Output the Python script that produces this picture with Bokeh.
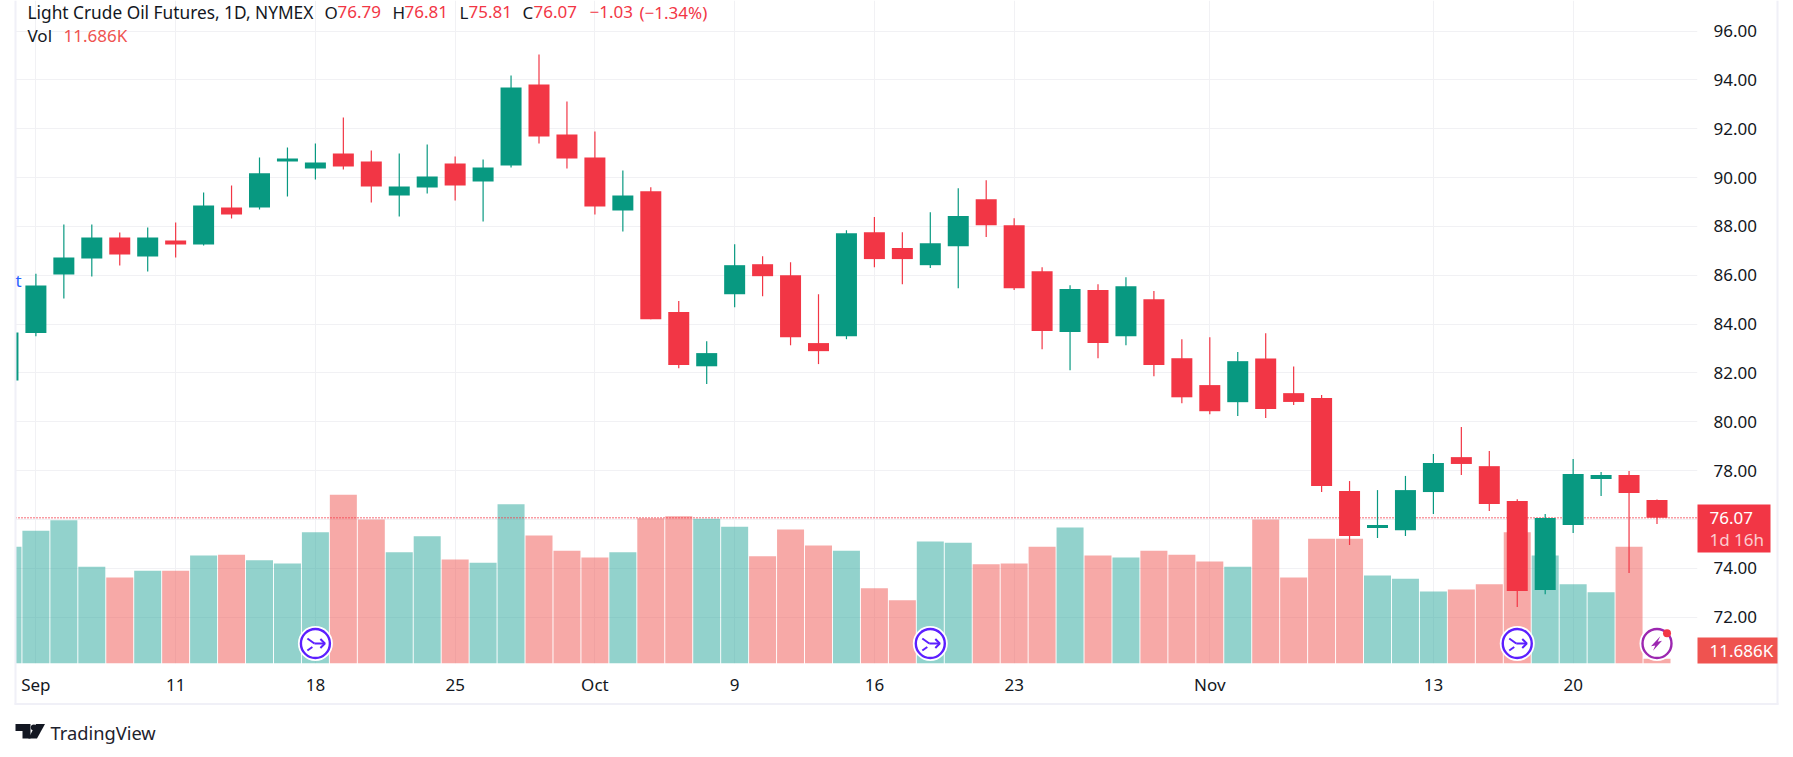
import numpy as np
from bokeh.plotting import figure
from bokeh.models import ColumnDataSource, Range1d, FixedTicker, NumeralTickFormatter
from bokeh.core.properties import value
from bokeh.embed import file_html
from bokeh.resources import INLINE

days = list(range(-1, 59))
opens = [81.69, 83.63, 86.03, 86.68, 87.54, 86.77, 87.42, 87.26, 88.77, 88.77, 90.66, 90.37,
         90.98, 90.66, 89.26, 89.59, 90.57, 89.84, 90.49, 93.81, 91.76, 90.82, 88.65, 89.44,
         84.49, 82.27, 85.22, 86.45, 86.00, 83.22, 83.50, 87.76, 87.11, 86.41, 87.19, 89.11,
         88.05, 86.16, 83.67, 85.39, 83.50, 85.02, 82.60, 81.50, 80.80, 82.59, 81.17, 80.97,
         77.16, 75.65, 75.56, 77.12, 78.55, 78.18, 76.75, 73.11, 75.77, 77.65, 77.82, 76.79]
highs = [83.65, 86.06, 88.08, 88.08, 87.75, 87.95, 88.16, 89.39, 89.67, 90.82, 91.23, 91.39,
         92.46, 91.11, 90.98, 91.35, 90.86, 90.74, 94.18, 95.04, 93.11, 91.88, 90.29, 89.60,
         84.94, 83.30, 87.27, 86.78, 86.53, 85.22, 87.84, 88.38, 87.76, 88.58, 89.56, 89.89,
         88.33, 86.33, 85.59, 85.63, 85.92, 85.35, 83.38, 83.46, 82.85, 83.62, 82.26, 81.09,
         77.57, 77.20, 77.78, 78.68, 79.78, 78.80, 76.83, 76.22, 78.47, 77.94, 77.98, 76.81]
lows = [81.69, 83.50, 85.05, 85.95, 86.40, 86.15, 86.72, 87.22, 88.32, 88.69, 89.22, 89.92,
        90.33, 88.98, 88.40, 89.35, 89.06, 88.20, 90.41, 91.39, 90.37, 88.49, 87.79, 84.20,
        82.19, 81.54, 84.69, 85.14, 83.13, 82.36, 83.38, 86.33, 85.63, 86.29, 85.47, 87.56,
        85.39, 82.97, 82.11, 82.60, 83.13, 81.86, 80.76, 80.31, 80.23, 80.15, 80.68, 77.12,
        74.95, 75.24, 75.32, 76.22, 77.82, 76.34, 72.41, 72.94, 75.44, 76.96, 73.80, 75.81]
closes = [83.65, 85.58, 86.72, 87.54, 86.85, 87.54, 87.26, 88.85, 88.49, 90.17, 90.78, 90.62,
          90.45, 89.63, 89.63, 90.04, 89.67, 90.41, 93.69, 91.68, 90.78, 88.81, 89.26, 84.20,
          82.32, 82.81, 86.41, 85.96, 83.46, 82.89, 87.72, 86.66, 86.66, 87.31, 88.42, 88.05,
          85.47, 83.71, 85.43, 83.22, 85.55, 82.32, 81.00, 80.43, 82.48, 80.52, 80.81, 77.37,
          75.32, 75.77, 77.20, 78.31, 78.27, 76.63, 73.07, 76.06, 77.86, 77.82, 77.08, 76.07]
volumes = [292, 332, 358, 242, 215, 232, 232, 270, 272, 258, 250, 328, 422, 360, 278, 318, 260,
           252, 398, 320, 282, 265, 278, 363, 368, 362, 342, 268, 335, 295, 282, 188, 158, 305,
           302, 248, 250, 292, 340, 270, 265, 282, 272, 255, 242, 360, 215, 312, 312, 220, 212,
           180, 185, 198, 328, 270, 198, 178, 292, 11.686]
date_ticks = [0, 5, 10, 15, 20, 25, 30, 35, 42, 50, 55]
date_labels = ["Sep", "11", "18", "25", "Oct", "9", "16", "23", "Nov", "13", "20"]
price_ticks = [72, 74, 76, 78, 80, 82, 84, 86, 88, 90, 92, 94, 96]
last_price = 76.07
event_days = [10, 32, 53]
flash_day = 58

UP, DOWN = "#089981", "#f23645"
VUP, VDOWN = "#26a69a", "#ef5350"
TXT = "#131722"
FONT = "Noto Sans"
W, H = 1793, 757
L, R, T, B = 15, 1697, 0, 663
PX_X, PX_Y = 27.95, 24.42       # pixels per day, pixels per price unit

x_lo = (L - 35.4) / PX_X
x_hi = (R - 35.4) / PX_X
y_hi = 96 + 30.5 / PX_Y
y_lo = 96 - (B - 30.5) / PX_Y

p = figure(width=W, height=H, output_backend="svg", toolbar_location=None,
           x_range=Range1d(x_lo, x_hi), y_range=Range1d(y_lo, y_hi),
           y_axis_location="right", min_border_left=L, min_border_right=W - R,
           min_border_top=T, min_border_bottom=H - B)
p.outline_line_color = None
p.background_fill_color = "white"
p.extra_y_ranges = {"vol": Range1d(0, (B - T) * 2.5)}

p.xaxis.ticker = FixedTicker(ticks=date_ticks)
p.xaxis.major_label_overrides = {k: v for k, v in zip(date_ticks, date_labels)}
p.yaxis.ticker = FixedTicker(ticks=price_ticks)
p.yaxis.formatter = NumeralTickFormatter(format="0.00")
for ax in (p.xaxis[0], p.yaxis[0]):
    ax.axis_line_color = None
    ax.major_tick_line_color = None
    ax.minor_tick_line_color = None
    ax.major_label_text_font = FONT
    ax.major_label_text_font_size = "17px"
    ax.major_label_text_color = TXT
p.xaxis.major_label_standoff = 3
p.yaxis.major_label_standoff = 10
p.xgrid.grid_line_color = "#f1f1f4"
p.ygrid.grid_line_color = "#f1f1f4"
p.xgrid.ticker = FixedTicker(ticks=date_ticks)
p.ygrid.ticker = FixedTicker(ticks=price_ticks)

o, c = np.array(opens), np.array(closes)
up = c >= o
src = ColumnDataSource(dict(
    x=days, o=opens, h=highs, l=lows, c=closes, v=volumes,
    top=np.maximum(o, c), bot=np.minimum(o, c),
    col=[UP if u else DOWN for u in up],
    vcol=[VUP if u else VDOWN for u in up]))

p.vbar(x="x", width=27 / PX_X, bottom=0, top="v", source=src, y_range_name="vol",
       fill_color="vcol", fill_alpha=0.5, line_color=None)
p.segment(x0=[x_lo], x1=[x_hi], y0=[last_price], y1=[last_price], line_color=DOWN,
          line_width=1.6, line_dash="1 2")
p.segment(x0="x", x1="x", y0="l", y1="h", source=src, line_color="col", line_width=1.2)
p.vbar(x="x", width=21 / PX_X, bottom="bot", top="top", source=src,
       fill_color="col", line_color=None)

# event badges, drawn in data space with pixel-sized offsets
ICON_Y = 96 - (643 - 30.5) / PX_Y
def dx(px): return px / PX_X
def dy(px): return -px / PX_Y

p.scatter(event_days + [flash_day], [ICON_Y] * 4, size=35, marker="circle",
          fill_color="white", line_color=None)
p.scatter(event_days, [ICON_Y] * 3, size=29, marker="circle", fill_color="white",
          line_color="#5c1fff", line_width=2.4)
p.scatter([flash_day], [ICON_Y], size=29, marker="circle", fill_color="white",
          line_color="#9c27b0", line_width=2.4)
paths = [[(-1, 0), (9, 0)], [(5, -4.5), (9.5, 0), (5, 4.5)], [(-8, -5), (-1, 0)], [(-3, 3.5), (-8, 7)]]
xs, ys = [], []
for d in event_days:
    for path in paths:
        xs.append([d + dx(a) for a, _ in path])
        ys.append([ICON_Y + dy(b) for _, b in path])
p.multi_line(xs, ys, line_color="#5c1fff", line_width=2)
bolt = [(3.3, -7.3), (-6, 2.7), (-1.7, 2), (-4, 7.3), (5, -2.7), (0.7, -1.7)]
p.patch([flash_day + dx(a) for a, _ in bolt], [ICON_Y + dy(b) for _, b in bolt],
        fill_color="#9c27b0", line_color=None)
p.scatter([flash_day + dx(10)], [ICON_Y + dy(-10.3)], size=8, marker="circle",
          fill_color=DOWN, line_color=None)

# transparent overlay in page pixels: chart frame, tags, legend rows, logo
q = figure(width=W, height=H, output_backend="svg", toolbar_location=None,
           x_range=Range1d(0, W), y_range=Range1d(H, 0), x_axis_location=None,
           y_axis_location=None, min_border=0)
q.grid.visible = False
q.outline_line_color = None
q.background_fill_alpha = 0
q.border_fill_alpha = 0
q.styles = {"position": "absolute", "left": "0", "top": "0"}

def box(left, right, top, bottom, color):
    q.quad(left=[left], right=[right], top=[top], bottom=[bottom], fill_color=color, line_color=None)

def text(x, y, s, color=TXT, size=17, alpha=1.0):
    q.text([x], [y], text=[s], text_color=color, text_font=value(FONT),
           text_font_size=f"{size}px", text_baseline="middle", text_align="left", text_alpha=alpha)

BORDER = "#f0f0f7"
box(14, 16, 0, 704, BORDER)
box(1776, 1778, 0, 704, BORDER)
box(14, 1778, 702.5, 704.5, BORDER)

box(1697, 1770, 504, 552, DOWN)
text(1709, 517.5, "76.07", "white")
text(1709, 539, "1d 16h", "white", alpha=0.75)
box(1697, 1777, 637, 663, VDOWN)
text(1709, 650, "11.686K", "white")

ROW = 11.5
text(27, ROW, "Light Crude Oil Futures, 1D, NYMEX", size=17.3)
for lx, ls, vx, vs in [(324, "O", 337, "76.79"), (392, "H", 404, "76.81"),
                       (459, "L", 468, "75.81"), (522, "C", 533, "76.07")]:
    text(lx, ROW, ls)
    text(vx, ROW, vs, DOWN)
text(589, ROW, "\u22121.03", DOWN)
text(639, ROW, "(\u22121.34%)", DOWN)
text(27, 35, "Vol")
text(63, 35, "11.686K", VDOWN)
text(15, 280, "t", "#2962ff")

LOGO = "#131722"
for pts in ([(15, 723.5), (30, 723.5), (30, 738), (22, 738), (22, 730.5), (15, 730.5)],
            [(36.5, 738), (27.8, 738), (35.5, 723.5), (44.5, 723.5)]):
    q.patch([a for a, _ in pts], [b for _, b in pts], fill_color=LOGO, line_color=None)
q.scatter([33.3], [727], size=6, marker="circle", fill_color=LOGO, line_color=None)
text(50, 732, "TradingView", "#1e222d", size=18.3)

html = file_html([p, q], INLINE)
html = html.replace("</head>", "<style>html,body{margin:0;padding:0;overflow:hidden}</style></head>", 1)
open("out.html", "w").write(html)
